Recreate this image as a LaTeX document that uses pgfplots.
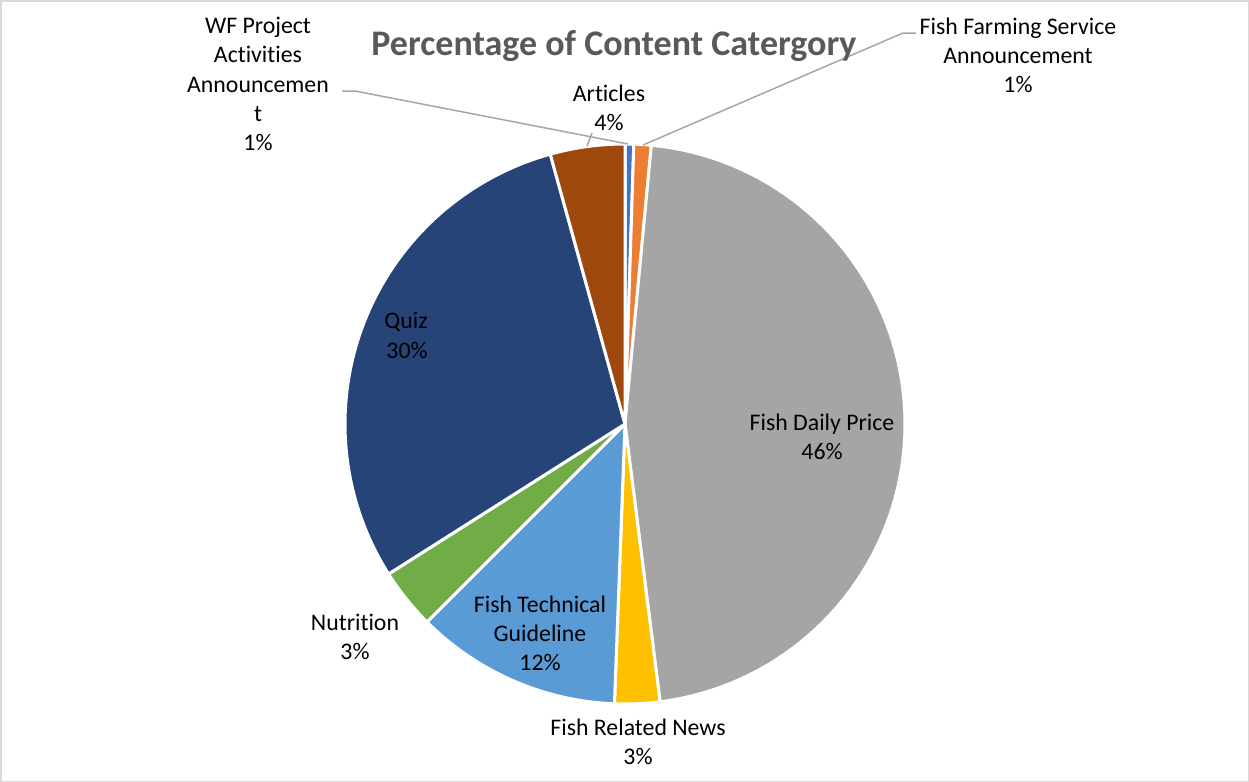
\documentclass[border=0pt]{standalone}
\usepackage{fontspec}
\setmainfont[Ligatures={NoCommon,NoContextual}]{Carlito}
\usepackage{pgfplots}
\pgfplotsset{compat=1.18}
\usepackage{pgfplotstable}
\usepgfplotslibrary{polar}

\definecolor{wfblue}{HTML}{4472C4}
\definecolor{ffsorange}{HTML}{ED7D31}
\definecolor{fdpgray}{HTML}{A5A5A5}
\definecolor{frnyellow}{HTML}{FFC000}
\definecolor{ftgblue}{HTML}{5B9BD5}
\definecolor{nutgreen}{HTML}{70AD47}
\definecolor{quizblue}{HTML}{264478}
\definecolor{artbrown}{HTML}{9E480E}
\definecolor{titlegray}{HTML}{595959}
\definecolor{leader}{HTML}{A6A6A6}
\definecolor{frame}{HTML}{D9D9D9}

% share of each content category, in percent, clockwise from 12 o'clock
\pgfplotstableread{
share color
0.5  wfblue
1.0  ffsorange
46.5 fdpgray
2.6  frnyellow
11.9 ftgblue
3.5  nutgreen
29.7 quizblue
4.3  artbrown
}\piedata

\begin{document}
\begin{tikzpicture}
\begin{polaraxis}[
    at={(312.5pt,-212pt)}, anchor=center,
    scale only axis, width=280pt, height=280pt,
    xmin=0, xmax=360, ymin=0, ymax=280,
    hide axis, clip=false,
]
\def\cum{0}
\pgfplotsforeachungrouped \i in {0,...,7}{%
  \pgfplotstablegetelem{\i}{share}\of\piedata \let\share\pgfplotsretval
  \pgfplotstablegetelem{\i}{color}\of\piedata \let\col\pgfplotsretval
  \pgfmathsetmacro\aend{90-3.6*\cum}
  \pgfmathsetmacro\astart{90-3.6*(\cum+\share)}
  \edef\doslice{\noexpand\addplot[fill=\col, draw=white, line width=1.5pt,
      line join=round, domain=\astart:\aend, samples=80] {280}
      -- (axis cs:0,0) -- cycle;}
  \doslice
  \pgfmathsetmacro\newcum{\cum+\share}
  \xdef\cum{\newcum}
}
\end{polaraxis}

\begin{scope}[x=0.5pt, y=-0.5pt]
\useasboundingbox (0,0) rectangle (1249,782);
\draw[frame, line width=0.75pt] (0.75,0.75) rectangle (1248.25,781.25);

% leader lines
\draw[leader, line width=0.75pt] (342,91) -- (355,91) -- (628,144);
\draw[leader, line width=0.75pt] (916,33) -- (903,33) -- (643,145);
\draw[leader, line width=0.75pt] (592,133) -- (587,146);

% title
\node[anchor=base, inner sep=0, font=\fontsize{18}{22}\selectfont\bfseries, text=titlegray]
  at (614,55) {Percentage of Content Catergory};

\begin{scope}[every node/.style={anchor=base, inner sep=0, font=\fontsize{11.9}{14.7}\selectfont}]
\node at (258,33) {WF Project};
\node at (258,62) {Activities};
\node at (258,92) {Announcemen};
\node at (258,121) {t};
\node at (258,150) {1\%};

\node at (1018,34) {Fish Farming Service};
\node at (1018,63) {Announcement};
\node at (1018,92) {1\%};

\node at (609,101) {Articles};
\node at (609,130) {4\%};

\node at (406,328) {Quiz};
\node at (407,358) {30\%};

\node at (822,430) {Fish Daily Price};
\node at (822,459) {46\%};

\node at (540,612) {Fish Technical};
\node at (540,641) {Guideline};
\node at (540,670) {12\%};

\node at (355,630) {Nutrition};
\node at (355,659) {3\%};

\node at (638,735) {Fish Related News};
\node at (638,764) {3\%};
\end{scope}
\end{scope}
\end{tikzpicture}
\end{document}
